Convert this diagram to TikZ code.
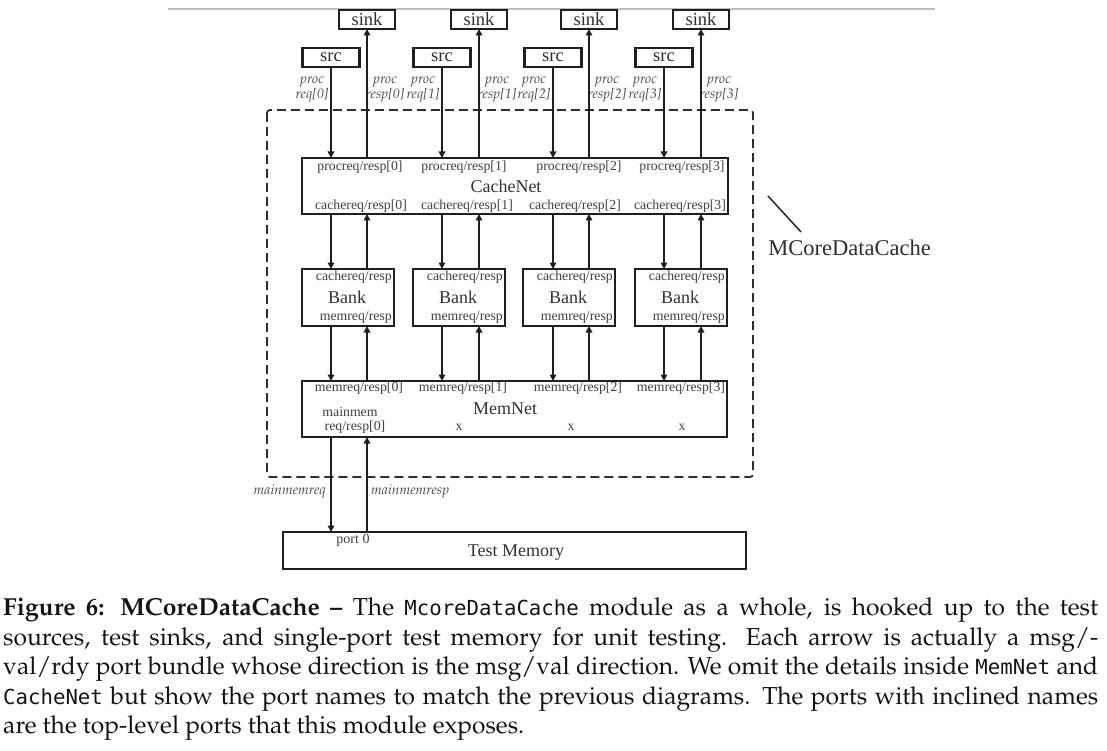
\documentclass[tikz,border=0pt]{standalone}
\usepackage[T1]{fontenc}
\usepackage{fontspec}
\setmainfont{Liberation Serif}
\newfontfamily\monofont{DejaVu Sans Mono}
\usetikzlibrary{arrows.meta}
\newcommand\palfont{\fontencoding{T1}\fontfamily{ppl}\selectfont}
\newcommand\capmono[1]{{\monofont\fontsize{20.7}{29.5}\selectfont #1}}
\newcommand\capfont{\palfont\fontsize{24.6}{29.5}\selectfont}
\begin{document}
\begin{tikzpicture}[x=1pt,y=-1pt,
  box/.style={draw=black!88, line width=2.2pt, inner sep=0pt, outer sep=0pt, fill=white},
  smallbox/.style={box, text=black!82, font=\fontsize{18.5}{20}\selectfont},
  lbl/.style={inner sep=0pt, text=black!75, font=\fontsize{13.8}{15}\selectfont},
  bigname/.style={inner sep=0pt, text=black!80, font=\fontsize{18}{20}\selectfont},
  ilbl/.style={inner sep=0pt, text=black!70, align=center, font=\palfont\itshape\fontsize{13.8}{15}\selectfont},
  arr/.style={draw=black!88, line width=1.8pt, -{Triangle[length=6.5pt,width=6.5pt]}},
  dashbox/.style={draw=black!82, line width=1.8pt, dash pattern=on 9pt off 5pt, rounded corners=3pt},
  capline/.style={anchor=base west, inner sep=0pt, text=black!92}
]
\useasboundingbox (0,0) rectangle (1107,751);

% top rule
\coordinate (ruleA) at (168,9);
\coordinate (ruleB) at (935,9);
\draw[black!25, line width=1.5pt] (ruleA) -- (ruleB);

% dashed MCoreDataCache boundary
\coordinate (dbA) at (267,110);
\coordinate (dbB) at (753,477);
\draw[dashbox] (dbA) rectangle (dbB);

% sources, sinks and port labels
\foreach \i/\rq/\rs in {0/331/367, 1/442/479, 2/553/589, 3/664/701} {
  \coordinate (rq\i) at (\rq,0);
  \coordinate (rs\i) at (\rs,0);
  \node[smallbox, minimum width=56pt, minimum height=19pt] (sink\i) at (\rs,19.5) {sink};
  \node[smallbox, minimum width=57pt, minimum height=19pt] (src\i) at (\rq,57.5) {src};
  \node[ilbl] (preq\i) at (\rq-19,89.5) {proc\\req[\i]};
  \node[ilbl] (presp\i) at (\rs+18,89.5) {proc\\resp[\i]};
}

% CacheNet
\node[box, minimum width=426pt, minimum height=56pt] (cachenet) at (515,186) {};
\node[bigname] (cachenetname) at (506,186) {CacheNet};
\foreach \i/\xa/\xb in {0/360/361, 1/464/467, 2/579/575, 3/682/680} {
  \node[lbl] (cnp\i) at (\xa,167) {procreq/resp[\i]};
  \node[lbl] (cnc\i) at (\xb,206) {cachereq/resp[\i]};
}

% Banks
\foreach \i/\bx in {0/348, 1/459, 2/569, 3/681} {
  \node[box, minimum width=92pt, minimum height=57pt] (bank\i) at (\bx,297.5) {};
  \node[lbl, anchor=east] (bankc\i) at (\bx+44,277) {cachereq/resp};
  \node[bigname] (bankname\i) at (\bx-1,297) {Bank};
  \node[lbl, anchor=east] (bankm\i) at (\bx+44,317) {memreq/resp};
}

% MemNet
\node[box, minimum width=425pt, minimum height=56pt] (memnet) at (514.5,409) {};
\node[bigname] (memnetname) at (505,409) {MemNet};
\foreach \i/\xa in {0/359, 1/463, 2/578, 3/681} {
  \node[lbl] (mnm\i) at (\xa,388) {memreq/resp[\i]};
}
\node[lbl] (mnmain) at (350,412) {mainmem};
\node[lbl] (mnmainrr) at (355,427) {req/resp[0]};
\node[lbl] (mnx1) at (459,427) {x};
\node[lbl] (mnx2) at (571,427) {x};
\node[lbl] (mnx3) at (682,427) {x};

% Test Memory
\node[box, minimum width=463pt, minimum height=37pt] (testmem) at (514.5,550.5) {};
\node[lbl, font=\fontsize{14}{15}\selectfont] (port0) at (353,540) {port 0};
\node[bigname] (testmemname) at (516,553) {Test Memory};

% arrows
\foreach \i in {0,1,2,3} {
  \draw[arr] (src\i) -- (src\i |- cachenet.north);
  \draw[arr] (cachenet.north -| rs\i) -- (sink\i);
  \draw[arr] (cachenet.south -| rq\i) -- (bank\i.north -| rq\i);
  \draw[arr] (bank\i.north -| rs\i) -- (cachenet.south -| rs\i);
  \draw[arr] (bank\i.south -| rq\i) -- (memnet.north -| rq\i);
  \draw[arr] (memnet.north -| rs\i) -- (bank\i.south -| rs\i);
}
\draw[arr] (memnet.south -| rq0) -- (testmem.north -| rq0);
\draw[arr] (testmem.north -| rs0) -- (memnet.south -| rs0);
\node[ilbl, anchor=east] (mmreq) at (326,491) {mainmemreq};
\node[ilbl, anchor=west] (mmresp) at (371,491) {mainmemresp};

% module label
\node[inner sep=0pt, text=black!82, font=\fontsize{22.5}{24}\selectfont] (mcdc) at (849.5,248) {MCoreDataCache};
\coordinate (leadA) at (768,196);
\coordinate (leadB) at (801,232);
\draw[black!85, line width=1.5pt] (leadA) -- (leadB);

% caption
\node[capline] (cap1) at (3,615.5) {\capfont\makebox[1095pt][s]{\textbf{Figure 6: MCoreDataCache --} The \capmono{McoreDataCache} module as a whole, is hooked up to the test}};
\node[capline] (cap2) at (3,645) {\capfont\makebox[1095pt][s]{sources, test sinks, and single-port test memory for unit testing.  Each arrow is actually a msg/-}};
\node[capline] (cap3) at (3,674.5) {\capfont\makebox[1095pt][s]{val/rdy port bundle whose direction is the msg/val direction. We omit the details inside \capmono{MemNet} and}};
\node[capline] (cap4) at (3,704) {\capfont\makebox[1095pt][s]{\capmono{CacheNet} but show the port names to match the previous diagrams. The ports with inclined names}};
\node[capline] (cap5) at (3,733.5) {\capfont are the top-level ports that this module exposes.};
\end{tikzpicture}
\end{document}
